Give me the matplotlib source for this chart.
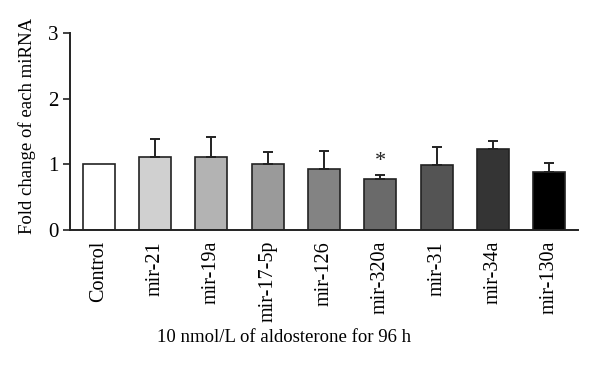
import matplotlib
matplotlib.use("Agg")
import matplotlib.pyplot as plt

categories = ["Control", "mir-21", "mir-19a", "mir-17-5p", "mir-126",
              "mir-320a", "mir-31", "mir-34a", "mir-130a"]
values = [1.00, 1.11, 1.11, 1.00, 0.93, 0.78, 0.99, 1.23, 0.89]
errors = [0.00, 0.28, 0.30, 0.19, 0.27, 0.06, 0.28, 0.12, 0.13]
colors = ["#ffffff", "#d0d0d0", "#b3b3b3", "#9a9a9a", "#838383",
          "#6a6a6a", "#545454", "#343434", "#000000"]
significant = ["", "", "", "", "", "*", "", "", ""]
yticks = [0, 1, 2, 3]

plt.rcParams['font.family'] = ['Liberation Serif', 'DejaVu Serif']

fig = plt.figure(figsize=(6.0, 3.65), dpi=100)
ax = fig.add_axes([70/600, 1 - 230/365, 508/600, 197/365])

x = list(range(len(categories)))
ax.bar(x, values, width=0.57, color=colors, edgecolor="#222222", linewidth=1.2, zorder=2)
for xi, v, e in zip(x, values, errors):
    if e > 0:
        ax.errorbar(xi, v, yerr=[[0], [e]], fmt="none", ecolor="#222222",
                    elinewidth=1.4, capsize=3.5, capthick=1.4, zorder=3)
for xi, v, e, s in zip(x, values, errors, significant):
    if s:
        ax.text(xi, v + e + 0.06, s, ha="center", va="bottom", fontsize=16, color="#222222")

ax.set_xlim(-0.51, len(categories) - 0.49)
ax.set_ylim(0, 3)
ax.set_yticks(yticks)
ax.set_yticklabels([str(t) for t in yticks], fontsize=15)
ax.set_xticks(x)
ax.set_xticklabels(categories, rotation=90, fontsize=14.5)
ax.tick_params(axis="x", length=0, pad=8)
ax.tick_params(axis="y", length=5, width=1.2, direction="out", pad=3, color="#222222")
for side in ["top", "right"]:
    ax.spines[side].set_visible(False)
for side in ["left", "bottom"]:
    ax.spines[side].set_linewidth(1.4)
    ax.spines[side].set_color("#222222")

fig.text(27/600, 1 - 126/365, "Fold change of each miRNA", rotation=90,
         ha="center", va="center", fontsize=13.5)
fig.text(284/600, 1 - 337/365, "10 nmol/L of aldosterone for 96 h",
         ha="center", va="center", fontsize=13.5)

fig.savefig("out.png", dpi=100)
